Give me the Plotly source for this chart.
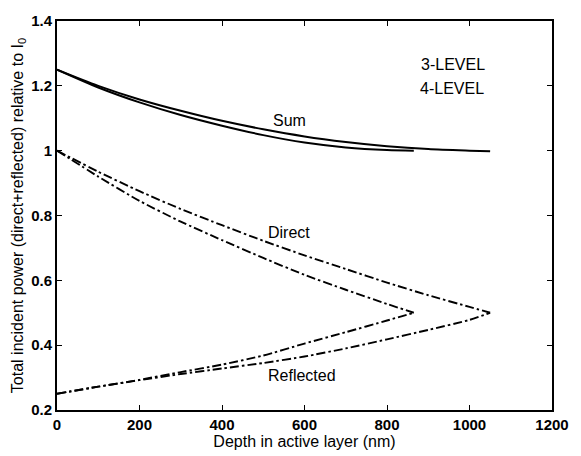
import plotly.graph_objects as go

# Depth grids (nm) for the two pumping schemes
depth_3 = [0, 100, 200, 300, 400, 500, 600, 700, 800, 900, 1000, 1050]
depth_4 = [0, 100, 200, 300, 400, 500, 600, 700, 800, 865]

# 3-LEVEL: direct, reflected and total incident power
direct_3 = [1.0, 0.935, 0.875, 0.82, 0.77, 0.722, 0.677, 0.635, 0.593, 0.554, 0.518, 0.5]
reflected_3 = [0.25, 0.272, 0.292, 0.311, 0.328, 0.345, 0.365, 0.39, 0.418, 0.447, 0.478, 0.5]
sum_3 = [1.25, 1.2, 1.158, 1.123, 1.092, 1.066, 1.044, 1.027, 1.014, 1.005, 1.0, 0.998]

# 4-LEVEL: direct, reflected and total incident power
direct_4 = [1.0, 0.92, 0.845, 0.781, 0.724, 0.669, 0.617, 0.571, 0.527, 0.5]
reflected_4 = [0.25, 0.272, 0.293, 0.317, 0.34, 0.368, 0.405, 0.44, 0.476, 0.5]
sum_4 = [1.25, 1.195, 1.149, 1.11, 1.077, 1.048, 1.025, 1.01, 1.002, 1.0]

x_ticks = [0, 200, 400, 600, 800, 1000, 1200]
y_ticks = [0.2, 0.4, 0.6, 0.8, 1, 1.2, 1.4]

# Curve labels: (text, depth, value)
labels = [
    ("3-LEVEL", 960, 1.265),
    ("4-LEVEL", 958, 1.193),
    ("Sum", 564, 1.094),
    ("Direct", 562, 0.747),
    ("Reflected", 595, 0.307),
]

FONT = "Liberation Sans, Arial, Helvetica, sans-serif"
DASHDOT = "9px,3px,2.5px,3px"

fig = go.Figure()

solid = dict(color="black", width=2, shape="spline", smoothing=0.8)
dashed = dict(color="black", width=1.9, dash=DASHDOT, shape="spline", smoothing=0.6)

fig.add_trace(go.Scatter(x=depth_3, y=sum_3, mode="lines", line=solid, name="Sum 3-level"))
fig.add_trace(go.Scatter(x=depth_4, y=sum_4, mode="lines", line=solid, name="Sum 4-level"))
fig.add_trace(go.Scatter(x=depth_3, y=direct_3, mode="lines", line=dashed, name="Direct 3-level"))
fig.add_trace(go.Scatter(x=depth_4, y=direct_4, mode="lines", line=dashed, name="Direct 4-level"))
fig.add_trace(go.Scatter(x=depth_3, y=reflected_3, mode="lines", line=dashed, name="Reflected 3-level"))
fig.add_trace(go.Scatter(x=depth_4, y=reflected_4, mode="lines", line=dashed, name="Reflected 4-level"))

for text, xd, yv in labels:
    fig.add_annotation(x=xd, y=yv, text=text, showarrow=False,
                       font=dict(family=FONT, size=16, color="black"))

axis_common = dict(
    showgrid=False, zeroline=False,
    showline=True, linecolor="black", linewidth=1.8, mirror="ticks",
    ticks="inside", ticklen=5, tickwidth=1.3, tickcolor="black",
    tickfont=dict(family=FONT, size=15, color="black", weight="bold"),
)

fig.update_layout(
    width=581, height=456,
    margin=dict(l=57, r=18, t=13, b=43),
    paper_bgcolor="white", plot_bgcolor="white",
    showlegend=False,
    xaxis=dict(axis_common, range=[0, 1200], tickvals=x_ticks,
               title=dict(text="Depth in active layer (nm)", standoff=0,
                          font=dict(family=FONT, size=16, color="black"))),
    yaxis=dict(axis_common, range=[0.2, 1.4], tickvals=y_ticks,
               title=dict(text="Total incident power (direct+reflected) relative to I<sub>0</sub>",
                          standoff=4, font=dict(family=FONT, size=16, color="black"))),
)

fig.write_html("out.html")
